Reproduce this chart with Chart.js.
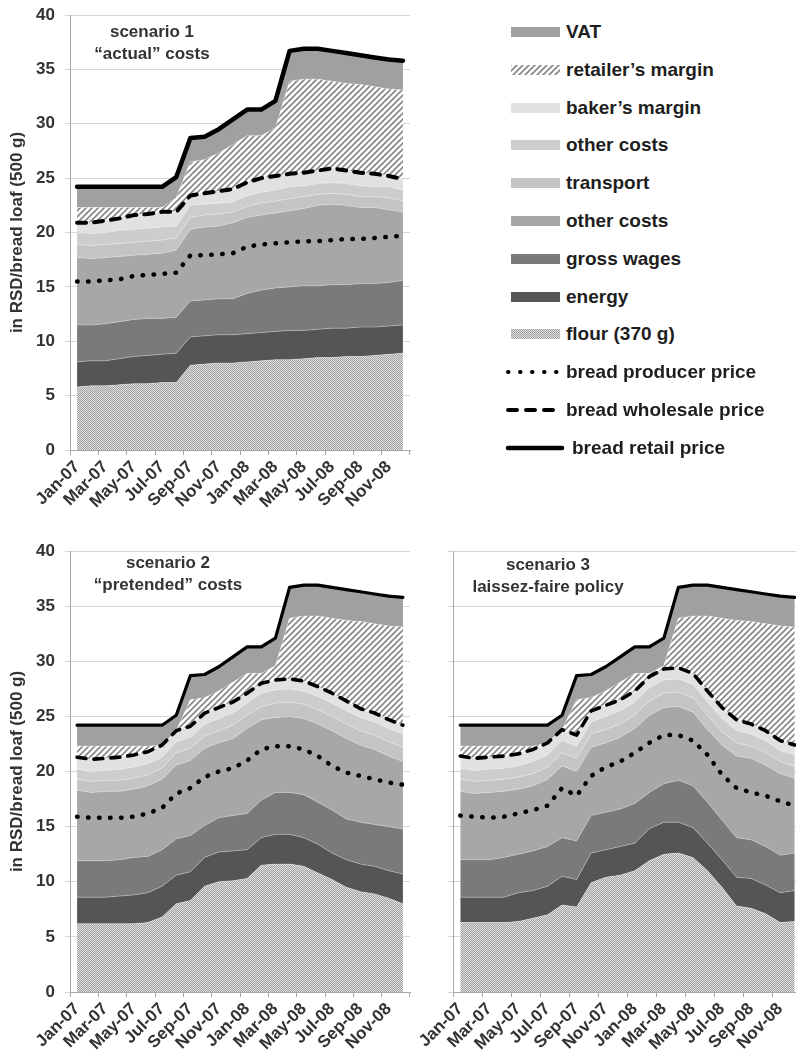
<!DOCTYPE html>
<html><head><meta charset="utf-8">
<script src="https://cdn.jsdelivr.net/npm/chart.js@4.4.1/dist/chart.umd.min.js"></script>
<style>
html,body{margin:0;padding:0;background:#fff;width:796px;height:1064px;overflow:hidden;position:relative;}
canvas.ch{position:absolute;}
.lg{position:absolute;font:bold 19px "Liberation Sans",Arial,sans-serif;color:#1e1e1e;white-space:nowrap;line-height:22px;}
.sw{position:absolute;}
</style></head><body>
<canvas id="c1" class="ch" width="420" height="530" style="left:0;top:0;width:420px;height:530px"></canvas>
<canvas id="c2" class="ch" width="420" height="529" style="left:0;top:535px;width:420px;height:529px"></canvas>
<canvas id="c3" class="ch" width="412" height="529" style="left:400px;top:535px;width:412px;height:529px"></canvas>
<div id="legend"></div>
<script>
const months = ['Jan-07','Feb-07','Mar-07','Apr-07','May-07','Jun-07','Jul-07','Aug-07','Sep-07','Oct-07','Nov-07','Dec-07','Jan-08','Feb-08','Mar-08','Apr-08','May-08','Jun-08','Jul-08','Aug-08','Sep-08','Oct-08','Nov-08','Dec-08'];

const retailPrice = [24.2,24.2,24.2,24.2,24.2,24.2,24.2,25.1,28.7,28.8,29.5,30.4,31.3,31.3,32.1,36.7,36.9,36.9,36.7,36.5,36.3,36.1,35.9,35.8];

// scenario 1 "actual" costs
const flour1     = [5.8,5.9,5.9,6.0,6.1,6.1,6.2,6.2,7.8,7.9,8.0,8.0,8.1,8.2,8.3,8.3,8.4,8.5,8.5,8.6,8.6,8.7,8.8,8.9];
const energy1    = [2.3,2.3,2.3,2.4,2.5,2.6,2.6,2.7,2.6,2.6,2.6,2.6,2.6,2.6,2.6,2.7,2.6,2.6,2.7,2.6,2.7,2.6,2.6,2.6];
const wages1     = [3.4,3.3,3.4,3.4,3.4,3.4,3.3,3.3,3.3,3.3,3.3,3.3,3.7,3.9,4.0,4.0,4.1,4.0,4.0,4.0,4.0,4.0,4.0,4.1];
const otherLow1  = [6.2,6.1,6.1,6.0,5.9,5.9,6.0,6.2,6.6,6.7,6.7,7.0,7.0,6.9,6.9,7.0,7.1,7.4,7.4,7.3,7.0,7.0,6.7,6.3];
const transport1 = [1.2,1.2,1.2,1.2,1.2,1.2,1.2,1.1,1.1,1.1,1.1,1.0,1.0,1.1,1.1,1.1,1.1,1.0,1.0,1.0,1.0,1.0,1.1,1.0];
const otherUp1   = [1.1,1.1,1.1,1.2,1.2,1.2,1.2,1.1,1.1,1.0,1.0,0.9,1.0,1.0,1.0,1.1,1.0,1.0,1.0,1.0,1.0,0.9,1.0,1.0];
const baker1     = [0.9,1.0,1.1,1.1,1.3,1.3,1.4,1.3,0.9,1.0,1.1,1.2,1.2,1.3,1.3,1.2,1.2,1.2,1.3,1.2,1.2,1.2,1.0,1.0];
const retailer1  = [1.4,1.4,1.2,1.0,0.7,0.6,0.4,1.3,3.1,3.1,3.5,4.1,4.3,3.9,4.4,8.5,8.6,8.4,8.0,8.0,8.1,8.0,8.0,8.2];
const vat1       = [1.9,1.9,1.9,1.9,1.9,1.9,1.9,1.9,2.2,2.1,2.2,2.3,2.4,2.4,2.5,2.8,2.8,2.8,2.8,2.8,2.7,2.7,2.7,2.7];
const producer1  = [15.5,15.5,15.6,15.7,16.0,16.1,16.2,16.3,17.9,17.9,18.0,18.1,18.7,18.9,19.0,19.1,19.2,19.2,19.3,19.4,19.4,19.5,19.6,19.7];
const wholesale1 = [20.9,20.9,21.1,21.3,21.6,21.7,21.9,21.9,23.4,23.6,23.8,24.0,24.6,25.0,25.2,25.4,25.5,25.7,25.9,25.7,25.5,25.4,25.2,24.9];

// scenario 2 "pretended" costs
const flour2     = [6.2,6.2,6.2,6.2,6.2,6.3,6.8,8.0,8.3,9.6,10.0,10.1,10.3,11.5,11.6,11.6,11.4,10.8,10.2,9.5,9.1,8.9,8.5,8.0];
const energy2    = [2.4,2.4,2.4,2.5,2.6,2.7,2.8,2.6,2.6,2.6,2.7,2.7,2.6,2.5,2.7,2.7,2.6,2.6,2.4,2.5,2.5,2.5,2.5,2.7];
const wages2     = [3.3,3.3,3.3,3.3,3.4,3.3,3.3,3.3,3.3,2.9,3.1,3.2,3.3,3.4,3.8,3.8,3.9,3.8,3.9,3.7,3.8,3.8,4.0,4.1];
const otherLow2  = [6.4,6.2,6.3,6.2,6.2,6.4,6.4,6.7,6.8,7.0,6.8,7.0,7.7,7.3,6.8,6.9,6.9,7.1,7.2,7.3,7.0,6.8,6.4,6.1];
const transport2 = [1.0,1.0,1.0,1.0,1.0,1.0,1.0,1.1,1.1,1.1,1.1,1.2,1.2,1.2,1.3,1.3,1.3,1.3,1.3,1.3,1.3,1.3,1.3,1.3];
const otherUp2   = [0.9,0.9,0.9,1.0,1.0,1.0,1.0,1.0,1.0,1.1,1.1,1.1,1.1,1.2,1.2,1.2,1.2,1.2,1.2,1.2,1.2,1.2,1.2,1.2];
const baker2     = [1.1,1.1,1.1,1.1,1.1,1.1,1.1,1.0,1.0,1.0,1.0,1.0,0.9,0.9,0.9,0.9,0.9,0.9,0.9,0.9,0.8,0.8,0.8,0.8];
const retailer2  = [1.0,1.2,1.1,1.0,0.8,0.5,0,0,2.4,1.4,1.5,1.8,1.8,0.9,1.3,5.5,5.9,6.4,6.8,7.3,7.9,8.1,8.5,8.9];
const vat2       = [1.9,1.9,1.9,1.9,1.9,1.9,1.8,1.4,2.2,2.1,2.2,2.3,2.4,2.4,2.5,2.8,2.8,2.8,2.8,2.8,2.7,2.7,2.7,2.7];
const producer2  = [15.9,15.8,15.8,15.8,15.9,16.2,16.7,18.0,18.5,19.5,20.0,20.3,21.0,22.0,22.3,22.3,22.0,21.4,20.5,19.9,19.6,19.3,19.0,18.8];
const wholesale2 = [21.3,21.1,21.2,21.3,21.5,21.8,22.4,23.7,24.1,25.3,25.8,26.3,27.1,28.0,28.3,28.4,28.2,27.7,27.1,26.4,25.7,25.3,24.7,24.2];

// scenario 3 laissez-faire policy
const flour3     = [6.3,6.3,6.3,6.3,6.4,6.7,7.0,7.9,7.7,9.9,10.4,10.6,11.0,11.9,12.5,12.6,12.2,11.0,9.5,7.8,7.6,7.1,6.3,6.4];
const energy3    = [2.3,2.3,2.3,2.3,2.6,2.5,2.6,2.6,2.5,2.7,2.5,2.6,2.5,2.9,2.9,2.8,2.7,2.5,2.5,2.6,2.7,2.6,2.7,2.8];
const wages3     = [3.4,3.4,3.4,3.6,3.5,3.6,3.6,3.5,3.5,3.4,3.4,3.4,3.6,3.3,3.5,3.8,3.8,3.7,3.6,3.6,3.5,3.5,3.4,3.4];
const otherLow3  = [6.2,6.0,6.1,6.0,5.9,5.9,6.1,6.5,6.3,6.2,6.3,6.5,6.8,7.0,6.9,6.7,6.7,6.6,6.8,7.4,7.4,7.4,7.4,6.8];
const transport3 = [1.1,1.1,1.1,1.1,1.1,1.1,1.1,1.2,1.2,1.2,1.2,1.2,1.2,1.3,1.3,1.3,1.3,1.3,1.2,1.2,1.1,1.1,1.1,1.1];
const otherUp3   = [1.0,1.0,1.0,1.0,1.0,1.1,1.1,1.1,1.1,1.1,1.2,1.2,1.2,1.2,1.2,1.2,1.2,1.2,1.2,1.1,1.1,1.1,1.0,1.0];
const baker3     = [1.1,1.1,1.1,1.1,1.1,1.1,1.1,1.0,1.0,1.0,1.0,1.0,1.0,1.0,1.0,1.0,1.0,1.0,1.0,1.0,0.9,0.9,0.9,0.9];
const retailer3  = [0.9,1.1,1.0,0.9,0.7,0.3,0,0,3.2,1.2,1.3,1.6,1.6,0.3,0.3,4.5,5.2,6.8,8.1,9.0,9.3,9.7,10.4,10.7];
const vat3       = [1.9,1.9,1.9,1.9,1.9,1.9,1.6,1.3,2.2,2.1,2.2,2.3,2.4,2.4,2.5,2.8,2.8,2.8,2.8,2.8,2.7,2.7,2.7,2.7];
const producer3  = [16.0,15.9,15.8,15.9,16.2,16.5,16.9,18.5,17.8,19.6,20.4,20.9,21.7,22.6,23.3,23.3,22.8,21.5,19.7,18.5,18.1,17.8,17.3,16.9];
const wholesale3 = [21.4,21.2,21.3,21.4,21.6,22.0,22.6,23.8,23.3,25.5,26.0,26.5,27.3,28.6,29.3,29.4,28.9,27.3,25.8,24.7,24.3,23.7,22.8,22.4];

const yTicks = [0,5,10,15,20,25,30,35,40];

const FONT = '"Liberation Sans", Arial, Helvetica, sans-serif';
const C = { vat:'#a0a0a0', baker:'#e1e1e1', otherUp:'#cdcdcd', transport:'#c4c4c4', otherLow:'#a7a7a7', wages:'#7a7a7a', energy:'#555555' };

function makeHatch(){
  const c=document.createElement('canvas'); c.width=6; c.height=6;
  const g=c.getContext('2d');
  g.fillStyle='#fff'; g.fillRect(0,0,6,6);
  g.strokeStyle='#858585'; g.lineWidth=1.6;
  g.beginPath(); g.moveTo(0,6); g.lineTo(6,0); g.moveTo(-1,1); g.lineTo(1,-1); g.moveTo(5,7); g.lineTo(7,5); g.stroke();
  return g.createPattern(c,'repeat');
}
function makeChecker(){
  const c=document.createElement('canvas'); c.width=2; c.height=2;
  const g=c.getContext('2d');
  g.fillStyle='#dedede'; g.fillRect(0,0,2,2);
  g.fillStyle='#a2a2a2'; g.fillRect(0,0,1,1); g.fillRect(1,1,1,1);
  return g.createPattern(c,'repeat');
}
const hatch = makeHatch();
const checker = makeChecker();

const scenarioPlugin = {
  id:'scenario',
  afterDraw(chart, args, opts){
    const ctx = chart.ctx; ctx.save();
    ctx.font = 'bold 17px ' + FONT; ctx.fillStyle = '#333';
    ctx.textAlign = 'center'; ctx.textBaseline = 'middle';
    opts.lines.forEach((t,k)=>ctx.fillText(t, opts.x, opts.y + k*opts.dy));
    ctx.restore();
  }
};

function makeChart(id, s){
  const area = (label, data, bg, fill) => ({label, data, backgroundColor:bg, borderColor:'rgba(255,255,255,0.4)', borderWidth:0.8, fill, stack:'costs', order:1, pointRadius:0, tension:0});
  const line = (label, data, w, dash, stack) => ({label, data, borderColor:'#000', borderWidth:w, borderDash:dash, borderCapStyle:'round', borderJoinStyle:'round', fill:false, stack, order:0, pointRadius:0, tension:0});
  return new Chart(document.getElementById(id).getContext('2d'), {
    type:'line',
    data:{ labels: months, datasets:[
      area('flour (370 g)', s.flour, checker, 'origin'),
      area('energy', s.energy, C.energy, '-1'),
      area('gross wages', s.wages, C.wages, '-1'),
      area('other costs', s.otherLow, C.otherLow, '-1'),
      area('transport', s.transport, C.transport, '-1'),
      area('other costs', s.otherUp, C.otherUp, '-1'),
      area('baker’s margin', s.baker, C.baker, '-1'),
      area('retailer’s margin', s.retailer, hatch, '-1'),
      area('VAT', s.vat, C.vat, '-1'),
      line('bread producer price', s.producer, s.lwP, [0.5,10.5], 'p'),
      line('bread wholesale price', s.wholesale, s.lwW, [9,8], 'w'),
      line('bread retail price', s.retail, s.lwR, [], 'r')
    ]},
    options:{
      responsive:false, animation:false, devicePixelRatio:1,
      layout:{padding:s.pad},
      plugins:{legend:{display:false}, tooltip:{enabled:false}, scenario:{lines:s.text, x:s.tx, y:s.ty, dy:22}},
      scales:{
        x:{
          offset:true,
          grid:{offset:true, drawOnChartArea:false, drawTicks:true, tickLength:5,
            color: c => (c.index===undefined || c.index%2===0) ? '#a8a8a8' : 'rgba(0,0,0,0)'},
          border:{display:true, color:'#a8a8a8'},
          ticks:{autoSkip:false, maxRotation:45, minRotation:45, padding:2, color:'#333',
            font:{family:FONT, size:17, weight:'bold'},
            callback:(v,i)=> i%2===0 ? months[i] : ''},
          afterFit: sc => { sc.height = s.xH; sc.paddingLeft = 0; sc.paddingRight = 0; }
        },
        y:{
          stacked:true, min:yTicks[0], max:yTicks[yTicks.length-1],
          ticks:{display:s.yLabels, stepSize:5, padding:10, color:'#333', font:{family:FONT, size:17, weight:'bold'}},
          grid:{color:'#d6d6d6', tickLength:5},
          border:{display:true, color:'#a8a8a8'},
          title:{display:s.yLabels, text:'in RSD/bread loaf (500 g)', color:'#333', font:{family:FONT, size:17, weight:'bold'}, padding:{top:7, bottom:0}},
          afterFit: sc => { sc.width = s.yW; sc.paddingTop = 0; sc.paddingBottom = 0; }
        }
      }
    },
    plugins:[scenarioPlugin]
  });
}

makeChart('c1', {flour:flour1, energy:energy1, wages:wages1, otherLow:otherLow1, transport:transport1, otherUp:otherUp1, baker:baker1, retailer:retailer1, vat:vat1, producer:producer1, wholesale:wholesale1, retail:retailPrice,
  lwP:4.5, lwW:4, lwR:4.5, pad:{left:0, top:15, right:10, bottom:0}, yW:70, xH:80, yLabels:true,
  text:['scenario 1','“actual” costs'], tx:152, ty:32});
makeChart('c2', {flour:flour2, energy:energy2, wages:wages2, otherLow:otherLow2, transport:transport2, otherUp:otherUp2, baker:baker2, retailer:retailer2, vat:vat2, producer:producer2, wholesale:wholesale2, retail:retailPrice,
  lwP:4.5, lwW:3.6, lwR:3.2, pad:{left:0, top:16, right:10, bottom:0}, yW:70, xH:72, yLabels:true,
  text:['scenario 2','“pretended” costs'], tx:168, ty:28});
makeChart('c3', {flour:flour3, energy:energy3, wages:wages3, otherLow:otherLow3, transport:transport3, otherUp:otherUp3, baker:baker3, retailer:retailer3, vat:vat3, producer:producer3, wholesale:wholesale3, retail:retailPrice,
  lwP:4.5, lwW:3.6, lwR:3.2, pad:{left:0, top:16, right:10, bottom:0}, yW:53, xH:72, yLabels:false,
  text:['scenario 3','laissez-faire policy'], tx:148, ty:30});

// legend
const legendItems = [
  {t:'VAT', fill:C.vat}, {t:'retailer’s margin', fill:hatch}, {t:'baker’s margin', fill:C.baker},
  {t:'other costs', fill:C.otherUp}, {t:'transport', fill:C.transport}, {t:'other costs', fill:C.otherLow},
  {t:'gross wages', fill:C.wages}, {t:'energy', fill:C.energy}, {t:'flour (370 g)', fill:checker},
  {t:'bread producer price', dash:[0.5,11.5], w:4}, {t:'bread wholesale price', dash:[9,9], w:4},
  {t:'bread retail price', dash:[], w:4.5, tx:572}
];
const lg = document.getElementById('legend');
legendItems.forEach((it,k)=>{
  const cy = 32 + 37.8*k;
  const cv = document.createElement('canvas'); cv.className='sw';
  const g = cv.getContext('2d');
  if (it.fill){
    cv.width=49; cv.height=10; cv.style.left='511px'; cv.style.top=(cy-5)+'px';
    g.fillStyle = it.fill; g.fillRect(0,0,49,10);
  } else {
    cv.width=62; cv.height=10; cv.style.left='505px'; cv.style.top=(cy-5)+'px';
    g.strokeStyle='#000'; g.lineWidth=it.w; g.lineCap='round'; g.setLineDash(it.dash);
    g.beginPath(); g.moveTo(3,5); g.lineTo(it.dash.length?53:57,5); g.stroke();
  }
  lg.appendChild(cv);
  const d = document.createElement('div'); d.className='lg';
  d.style.left=(it.tx||566)+'px'; d.style.top=(cy-11)+'px'; d.textContent=it.t;
  lg.appendChild(d);
});
</script>
</body></html>
